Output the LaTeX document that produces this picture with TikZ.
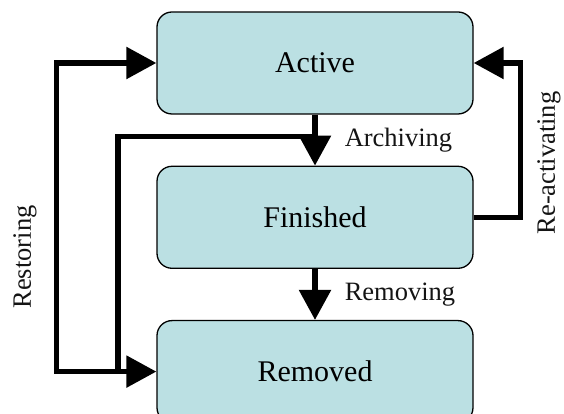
\documentclass[tikz,border=0pt]{standalone}
\usepackage{fontspec}
\setmainfont{Liberation Serif}
\usetikzlibrary{arrows.meta, positioning}
\definecolor{stateTeal}{RGB}{187,224,227}
\definecolor{stateInk}{RGB}{20,20,20}

\begin{document}
\begin{tikzpicture}[
    state/.style={rounded corners=15pt, draw=black, line width=1.3pt, fill=stateTeal, minimum width=316pt,
    minimum height=102pt, inner sep=0pt, font=\fontsize{30}{36}\selectfont},
    arrow/.style={-{Triangle[length=30pt,width=31pt]}, line width=5.5pt, draw=black},
    lbl/.style={inner sep=0pt, text=stateInk, font=\fontsize{26.5}{32}\selectfont}
  ]
  \useasboundingbox (0,0) rectangle (564pt,414pt);

  \node[state] (active) at (315pt,351pt) {Active};
  \node[state, below=51pt of active] (finished) {Finished};
  \node[state, below=51pt of finished] (removed) {Removed};

  \draw[arrow] (active) -- node[lbl, right=27pt] (archiving) {Archiving} (finished);
  \draw[arrow] (finished) -- node[lbl, right=27pt] (removing) {Removing} (removed);

  % loops on the left and on the right
  \draw[arrow, shorten <=30pt] (removed.west) -- ++(-100pt,0) |- (active.west);
  \draw[arrow] (active.south) |- ++(-197pt,-22pt) |- (removed.west);
  \draw[arrow] (finished.east) -- ++(47pt,0) |- (active.east);

  \node[lbl, rotate=90] (restoring) at (25pt,157pt) {Restoring};
  \node[lbl, rotate=90] (reactivating) at (549pt,251pt) {Re-activating};
\end{tikzpicture}
\end{document}
